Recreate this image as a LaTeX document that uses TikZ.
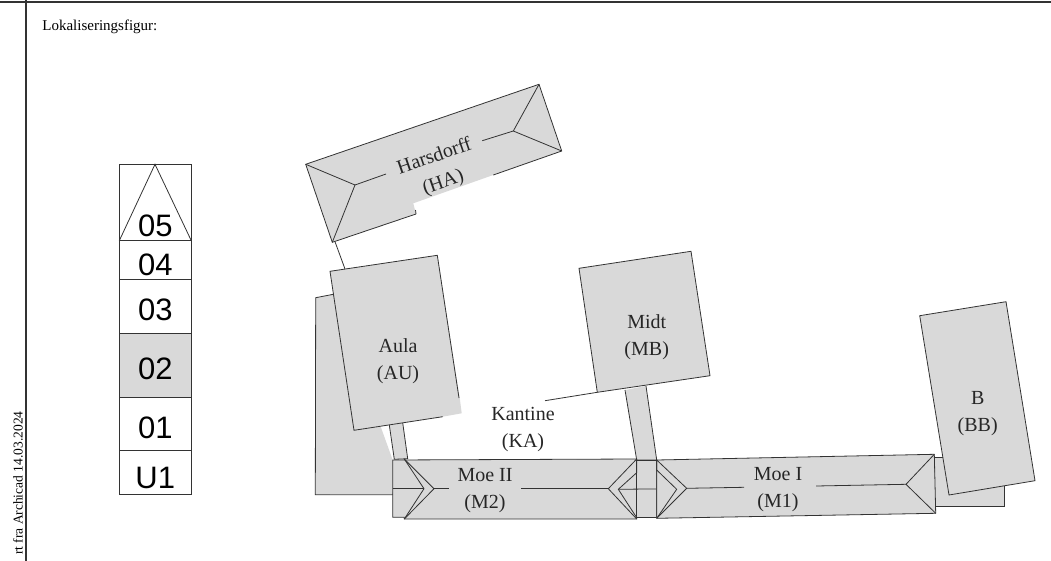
\documentclass[tikz,border=0pt]{standalone}
\usepackage{fontspec}
\setmainfont{Liberation Serif}
\newfontfamily\levelfont{Liberation Sans}
\definecolor{roofgray}{HTML}{D9D9D9}
\definecolor{planline}{HTML}{333333}

\begin{document}
\begin{tikzpicture}
[
x=1pt,y=-1pt,
line width=0.8pt,
planline,
house/.style={fill=roofgray,draw=planline},
roof/.style={fill=roofgray,draw=none},
frameline/.style={draw=planline,line width=1.4pt},
levelbox/.style={draw=planline,line width=0.9pt},
levellabel/.style={text=black,font=\levelfont\fontsize{31}{31}\selectfont,inner sep=0pt},
houselabel/.style={text=black!85,align=center,inner sep=0pt,font=\fontsize{20}{27}\selectfont},
]
\useasboundingbox (0,0) rectangle (1051,561);

%The frame and its texts
\draw[frameline] (0,2) -- (1051,2);
\draw[frameline] (26,0) -- (26,561);
\node[text=black,anchor=west,inner sep=0pt,font=\fontsize{15}{15}\selectfont] (caption) at (42,27) {Lokaliseringsfigur:};
\node[text=black,rotate=90,anchor=east,inner sep=0pt,font=\fontsize{13.5}{13.5}\selectfont] (stamp) at (18,411) {rt fra Archicad 14.03.2024};

%The level bar
\draw[levelbox] (119.3,164.3) rectangle (191.3,494.3);
\draw[levelbox,fill=roofgray] (119.3,333.3) rectangle (191.3,397.7);
\draw[levelbox] (119.3,240.7) -- (191.3,240.7);
\draw[levelbox] (119.3,279.3) -- (191.3,279.3);
\draw[levelbox] (119.3,450.3) -- (191.3,450.3);
\draw (119.3,240.7) -- (155,164.3) -- (191.3,240.7);
\node[levellabel] (l5) at (155.3,226) {05};
\node[levellabel] (l4) at (155.3,265) {04};
\node[levellabel] (l3) at (155.3,310) {03};
\node[levellabel] (l2) at (155.3,369) {02};
\node[levellabel] (l1) at (155.3,428) {01};
\node[levellabel] (lu) at (155.3,478) {U1};

%Harsdorff
\coordinate (ha1) at (305.7,164.3);
\coordinate (ha2) at (539,84.3);
\coordinate (ha3) at (561.7,151);
\coordinate (ha4) at (332.3,242.3);
\coordinate (hl) at (355,185);
\coordinate (hr) at (513.3,131);
\fill[roof] (ha1) -- (ha2) -- (ha3) -- (493.3,175) -- (413.3,203.3) -- (416,214) -- (ha4) -- cycle;
\draw (416,214) -- (415.5,210);
\draw (416,214) -- (ha4) -- (ha1) -- (ha2) -- (ha3) -- (493.3,175);
\draw (ha1) -- (hl) -- (ha4);
\draw (ha2) -- (hr) -- (ha3);
\draw (hl) -- (386,174);
\draw (482.3,140.7) -- (hr);
\draw (335,241.7) -- (345,269);

%Annexes at the back
\draw[house] (315.7,297.7) -- (333.3,294.3) -- (392.7,494.7) -- (315.3,494.7) -- cycle;
\fill[roof] (333,294.3) -- (392.7,460) -- (392.7,494) -- (330,494) -- cycle;
\draw[house] (934.3,457.3) rectangle (1004.3,506.7);

%Links between the houses
\draw[house] (389.3,425) -- (394.3,459.3) -- (407.7,458.7) -- (402.7,422.7);
\draw[house] (625,390) -- (636.7,460) -- (656.7,460) -- (646,386);

%Aula
\fill[roof] (330,271.3) -- (437.3,255.3) -- (460,400) -- (461.7,413.3) -- (442.7,416.7) -- (354,430.3) -- cycle;
\draw (442.7,416.7) -- (354,430.3) -- (330,271.3) -- (437.3,255.3) -- (459,398);

%Midt and B
\draw (545,400.7) -- (597.3,392.3);
\draw[house] (579,268.3) -- (691,251.3) -- (710,375.7) -- (597.3,392.3) -- cycle;

%Moe II
\draw[house] (392.7,460) -- (636.7,459) -- (636.7,519) -- (404.3,519) -- (404.3,517.3) -- (392.7,517.3) -- cycle;
\draw (404.3,459) -- (434,488.7) -- (404.3,519);
\draw (404.3,459) -- (424,488.7) -- (404.3,519);
\draw (392.7,488.7) -- (424,488.7);
\draw (434,488.7) -- (448.7,488.7);
\draw (521,488.7) -- (608.3,488.7);
\draw (636.7,459) -- (608.3,488.7) -- (636.7,519);

%The piece between Moe II and Moe I
\draw[house] (636.7,460) -- (656.7,460) -- (656.7,517) -- (636.7,517) -- cycle;
\draw (636.7,460) -- (636.7,472.7) -- (618.3,489.3) -- (636.7,517.7);
\draw (656.7,460) -- (656.7,470) -- (676.7,489.3) -- (656.7,517.7);
\draw (618.3,489.3) -- (676.7,488.7);

%Moe I
\draw[house] (656.7,460) -- (934.3,454.3) -- (935.7,513.3) -- (656.7,518.3) -- cycle;
\draw (656.7,460) -- (686.7,488.3) -- (656.7,518.3);
\draw (656.7,460) -- (656.7,470) -- (676.7,489.3) -- (656.7,518.3);
\draw (686.7,488.3) -- (744,487.3);
\draw (816,486) -- (906,484.3);
\draw (934.3,454.3) -- (906,484.3) -- (935.7,513.3);

%B on top of the annex
\draw[house] (919.7,315.7) -- (1006,301.7) -- (1035,480.7) -- (949,495) -- cycle;

%The names
\node[houselabel,rotate=19] (harsdorff) at (439,170) {Harsdorff\\(HA)};
\node[houselabel] (aula) at (398,361) {Aula\\(AU)};
\node[houselabel] (midt) at (646.7,336.7) {Midt\\(MB)};
\node[houselabel] (kantine) at (523,430) {Kantine\\(KA)};
\node[houselabel] (moe2) at (485,491) {Moe II\\(M2)};
\node[houselabel] (moe1) at (778,490) {Moe I\\(M1)};
\node[houselabel] (bb) at (977.7,413.3) {B\\(BB)};
\end{tikzpicture}
\end{document}
